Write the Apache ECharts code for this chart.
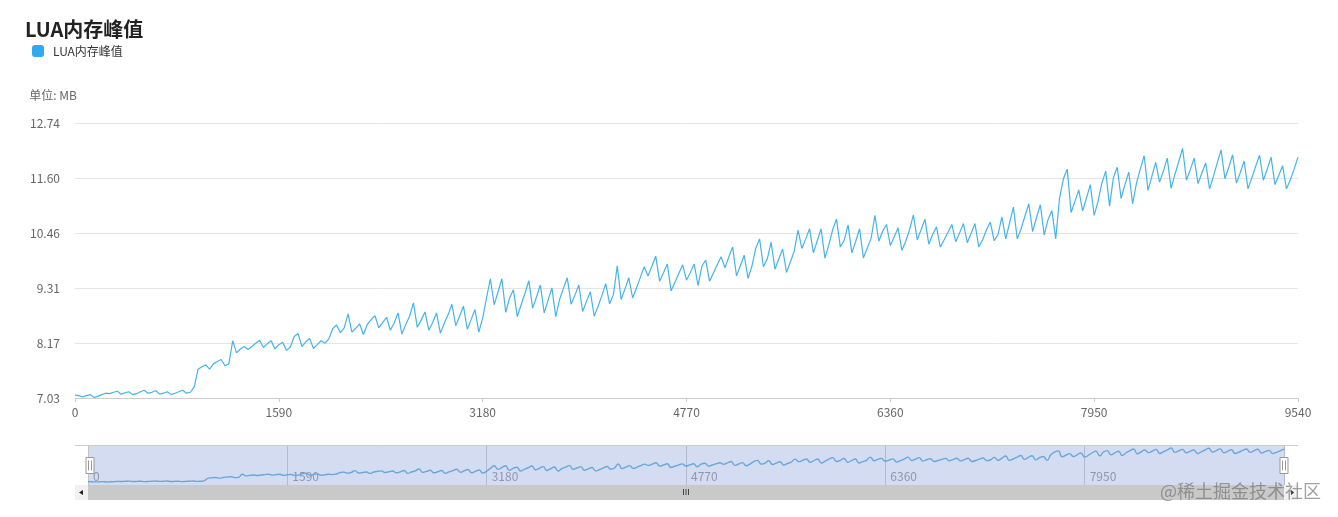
<!DOCTYPE html>
<html><head><meta charset="utf-8">
<style>html,body{margin:0;padding:0;background:#fff}#c{width:1338px;height:517px}</style>
<script src="https://cdn.jsdelivr.net/npm/echarts@6/dist/echarts.min.js"></script>
</head><body><div id="c"></div>
<script>
const titleText = 'LUA内存峰值';
const unitLabel = '单位: MB';
const watermark = '@稀土掘金技术社区';
const yTicks = [7.03, 8.17, 9.31, 10.46, 11.60, 12.74];
const categories = Array.from({length: 319}, (_, i) => String(i * 30));
const luaPeak = [
7.09,7.08,7.05,7.08,7.10,7.04,7.07,7.10,7.13,7.12,7.15,7.17,7.11,7.14,7.16,7.10,7.12,7.16,7.19,7.13,
7.15,7.18,7.11,7.13,7.16,7.10,7.13,7.16,7.19,7.13,7.15,7.26,7.63,7.68,7.72,7.63,7.74,7.79,7.83,7.70,
7.74,8.22,7.97,8.05,8.10,8.04,8.10,8.17,8.23,8.08,8.16,8.22,8.05,8.14,8.19,8.02,8.09,8.31,8.37,8.10,
8.20,8.27,8.06,8.14,8.22,8.17,8.26,8.47,8.55,8.39,8.49,8.78,8.40,8.48,8.57,8.35,8.56,8.66,8.74,8.49,
8.60,8.71,8.44,8.59,8.80,8.36,8.56,8.73,9.01,8.50,8.65,8.82,8.44,8.60,8.80,8.38,8.58,8.76,8.98,8.53,
8.73,8.94,8.46,8.66,8.87,8.40,8.69,9.11,9.51,8.97,9.24,9.51,8.81,9.11,9.28,8.72,8.97,9.21,9.47,8.90,
9.13,9.38,8.80,9.06,9.32,8.72,9.08,9.31,9.53,8.98,9.17,9.38,8.83,9.04,9.24,8.73,8.94,9.16,9.41,8.99,
9.18,9.78,9.08,9.30,9.53,9.11,9.32,9.54,9.76,9.57,9.77,9.98,9.46,9.63,9.82,9.26,9.44,9.62,9.80,9.48,
9.64,9.82,9.37,9.77,9.90,9.46,9.63,9.80,9.97,9.74,9.96,10.17,9.57,9.78,10.00,9.52,9.77,10.14,10.34,9.76,
9.92,10.27,9.71,9.92,10.13,9.64,9.86,10.08,10.52,10.14,10.34,10.55,10.05,10.30,10.55,9.94,10.21,10.53,10.75,10.17,
10.31,10.63,10.05,10.29,10.55,9.94,10.15,10.35,10.83,10.29,10.50,10.64,10.20,10.38,10.57,10.10,10.29,10.53,10.84,10.32,
10.53,10.75,10.23,10.43,10.59,10.17,10.32,10.48,10.64,10.28,10.46,10.66,10.26,10.45,10.66,10.17,10.32,10.53,10.69,10.30,
10.43,10.80,10.34,10.67,11.00,10.34,10.55,10.81,11.07,10.49,10.78,11.05,10.42,10.74,10.93,10.34,11.19,11.59,11.79,10.89,
11.12,11.36,10.92,11.19,11.47,10.83,11.12,11.50,11.75,11.02,11.61,11.83,11.18,11.47,11.73,11.07,11.50,11.79,12.07,11.35,
11.64,11.93,11.52,11.75,12.02,11.39,11.68,11.95,12.22,11.56,11.78,12.02,11.49,11.71,11.92,11.38,11.64,11.92,12.19,11.59,
11.83,12.09,11.50,11.72,11.96,11.38,11.61,11.85,12.08,11.56,11.79,12.04,11.47,11.66,11.86,11.38,11.57,11.79,12.04
];
const FONT = '"Noto Sans CJK SC","Noto Sans",sans-serif';
const chart = echarts.init(document.getElementById('c'), null, {renderer: 'canvas'});
chart.setOption({
  animation: false,
  textStyle: {fontFamily: FONT},
  title: {text: titleText, left: 20, top: 14, textStyle: {fontSize: 20, fontWeight: 'bold', color: '#222', fontFamily: FONT}},
  legend: {data: [titleText], left: 27, top: 40, itemWidth: 12, itemHeight: 12, icon: 'roundRect',
    textStyle: {fontSize: 12, color: '#333', fontFamily: FONT, padding: [0, 0, 0, 4]}},
  grid: [
    {left: 75, right: 40, top: 123.5, bottom: 119},
    {left: 88, right: 54, top: 446, height: 39}
  ],
  xAxis: [
    {type: 'category', gridIndex: 0, data: categories, boundaryGap: false,
      axisLine: {lineStyle: {color: '#ccc'}},
      axisTick: {interval: 52, length: 4, lineStyle: {color: '#ccc'}},
      axisLabel: {interval: 52, color: '#666', fontSize: 12, margin: 8, fontFamily: FONT},
      splitLine: {show: false}},
    {type: 'category', gridIndex: 1, data: categories, boundaryGap: false,
      axisLine: {show: false}, axisTick: {show: false},
      axisLabel: {interval: 52, inside: true, align: 'left', color: '#888', fontSize: 12, margin: 3,
        padding: [0, 0, 0, 5], showMaxLabel: false, fontFamily: FONT},
      splitLine: {show: true, interval: 52, lineStyle: {color: '#c4c4c4'}}}
  ],
  yAxis: [
    {type: 'value', gridIndex: 0, min: 7.03, max: 12.74, name: unitLabel, nameLocation: 'end', nameGap: 22,
      nameTextStyle: {color: '#666', fontSize: 12, align: 'right', padding: [0, -2, 0, 0], fontFamily: FONT},
      axisLine: {show: false},
      axisTick: {show: false, customValues: yTicks},
      axisLabel: {customValues: yTicks, color: '#666', fontSize: 12, margin: 15, fontFamily: FONT,
        formatter: v => Number(v).toFixed(2)},
      splitLine: {show: true, lineStyle: {color: '#e4e4e4'}}},
    {type: 'value', gridIndex: 1, min: 6.58, max: 12.53, show: false, splitLine: {show: false}}
  ],
  dataZoom: [{
    type: 'slider', xAxisIndex: 0, filterMode: 'none', start: 0, end: 100,
    left: 88, right: 54, top: 446, height: 39,
    showDataShadow: false, showDetail: false, brushSelect: false, moveHandleSize: 0,
    backgroundColor: 'transparent', borderColor: 'transparent',
    fillerColor: 'rgba(150,172,220,0.42)',
    handleIcon: 'path://M0,0H8V16H0Z M2.5,3V13 M5.5,3V13',
    handleSize: 16,
    handleStyle: {color: '#fff', borderColor: '#999', borderWidth: 1}
  }],
  series: [
    {name: titleText, type: 'line', xAxisIndex: 0, yAxisIndex: 0, data: luaPeak, showSymbol: false,
      symbol: 'none', lineStyle: {width: 1.2, color: '#45b4ea'}, itemStyle: {color: '#2fa9f0'}},
    {name: 'overview', type: 'line', xAxisIndex: 1, yAxisIndex: 1, data: luaPeak, showSymbol: false,
      symbol: 'none', silent: true, smooth: true, lineStyle: {width: 1.4, color: '#4aa3dc'}, itemStyle: {color: '#4aa3dc'}}
  ],
  graphic: [
    {type: 'line', silent: true, z: 10, shape: {x1: 75, y1: 445.5, x2: 1298, y2: 445.5}, style: {stroke: '#ccc', lineWidth: 1}},
    {type: 'rect', silent: true, z: 10, shape: {x: 88, y: 485, width: 1196, height: 15}, style: {fill: '#c9c9c9'}},
    {type: 'rect', silent: true, z: 10, shape: {x: 75, y: 485, width: 13, height: 15}, style: {fill: '#f1f1f1'}},
    {type: 'rect', silent: true, z: 10, shape: {x: 1284, y: 485, width: 14, height: 15}, style: {fill: '#f1f1f1'}},
    {type: 'polygon', silent: true, z: 11, shape: {points: [[79, 492.5], [83, 490], [83, 495]]}, style: {fill: '#222'}},
    {type: 'polygon', silent: true, z: 11, shape: {points: [[1294, 492.5], [1291, 490], [1291, 495]]}, style: {fill: '#222'}},
    {type: 'rect', silent: true, z: 11, shape: {x: 683, y: 489, width: 1, height: 6}, style: {fill: '#444'}},
    {type: 'rect', silent: true, z: 11, shape: {x: 685.5, y: 489, width: 1, height: 6}, style: {fill: '#444'}},
    {type: 'rect', silent: true, z: 11, shape: {x: 688, y: 489, width: 1, height: 6}, style: {fill: '#444'}},
    {type: 'text', silent: true, z: 20, left: 1160, top: 482,
      style: {text: watermark, fontSize: 18, fontFamily: FONT, fill: 'rgba(110,110,110,0.65)'}}
  ]
});
</script></body></html>
